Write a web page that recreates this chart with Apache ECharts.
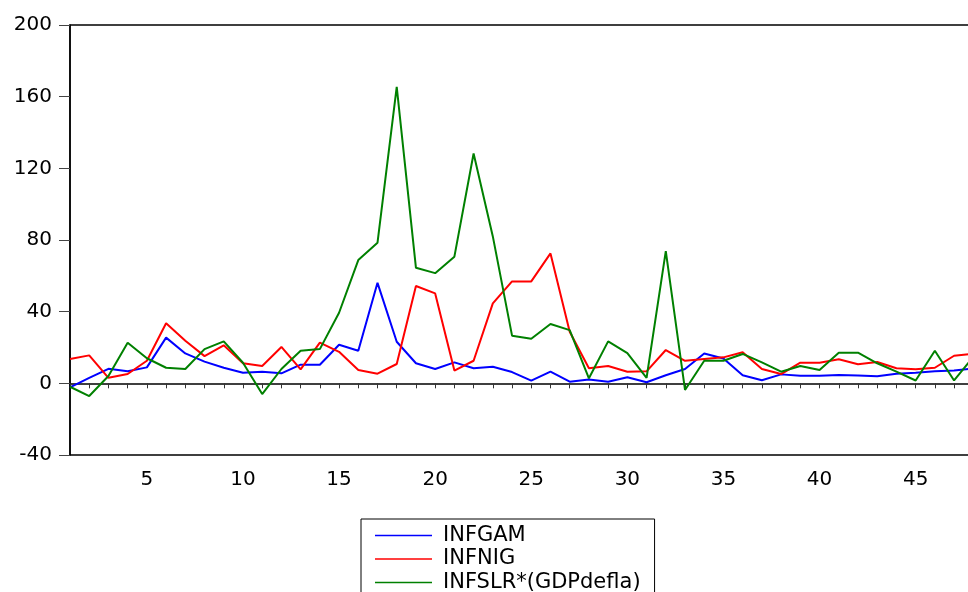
<!DOCTYPE html>
<html>
<head>
<meta charset="utf-8">
<script src="https://cdn.jsdelivr.net/npm/echarts@6/dist/echarts.min.js"></script>
<style>
html,body{margin:0;padding:0;background:#fff;overflow:hidden;width:968px;height:592px;}
#chart{width:975px;height:592px;}
</style>
</head>
<body>
<div id="chart"></div>
<script>
var categories = [];
for (var i = 1; i <= 48; i++) categories.push(String(i));

var seriesNames = ['INFGAM', 'INFNIG', 'INFSLR*(GDPdefla)'];

var infgam = [-2.2, 3, 8.1, 6.7, 8.9, 25.5, 16.7, 12.1, 8.7, 5.9,
  6.5, 5.6, 10.4, 10.4, 21.5, 18.2, 56.1, 23.2, 11.2, 8,
  11.7, 8.4, 9.3, 6.3, 1.5, 6.5, 0.9, 2.2, 0.9, 3.4,
  0.6, 4.5, 8, 16.7, 13.9, 4.5, 1.7, 5, 4.2, 4.2,
  4.6, 4.4, 3.9, 5.4, 5.9, 6.7, 7.1, 8.3];

var infnig = [13.6, 15.6, 3.1, 5.2, 12.6, 33.5, 23.8, 15.2, 21.2, 11.2,
  9.7, 20.3, 7.8, 22.7, 17.6, 7.4, 5.4, 10.8, 54.3, 50.2,
  7.1, 12.6, 44.6, 56.9, 56.9, 72.5, 28.8, 8.4, 9.7, 6.5,
  6.7, 18.6, 12.6, 13.6, 14.5, 17.3, 8, 5.2, 11.5, 11.5,
  13.4, 10.6, 11.9, 8.4, 7.8, 8.7, 15.4, 16.5];

var infslr = [-1.9, -7.1, 4.1, 22.7, 14, 8.7, 8, 19.1, 23.4, 11.5,
  -6, 8, 18.2, 19.1, 39.4, 68.8, 78.5, 165.5, 64.5, 61.5,
  70.7, 128.3, 82, 26.6, 24.9, 33.1, 29.7, 2.8, 23.4, 16.9,
  3.1, 73.8, -3.7, 12.6, 12.6, 16.4, 11.7, 6.5, 9.7, 7.5,
  17.1, 17.1, 11.2, 6.5, 1.6, 18.2, 1.6, 14.8];

var yTicks = [-40, 0, 40, 80, 120, 160, 200];
var colors = ['#0000ff', '#ff0000', '#008000'];

var FONT = 'DejaVu Sans';
var chart = echarts.init(document.getElementById('chart'), null, {renderer: 'canvas'});
chart.setOption({
  animation: false,
  backgroundColor: '#fff',
  grid: {
    left: 70, top: 25, right: 1.7, bottom: 137,
    show: true, borderColor: '#000', borderWidth: 1.3, backgroundColor: 'transparent'
  },
  legend: {
    orient: 'vertical',
    left: 361, top: 519, height: 200, width: 320,
    padding: [6, 14, 30, 14],
    borderColor: '#000', borderWidth: 1,
    backgroundColor: '#fff',
    itemWidth: 57, itemHeight: 1.5, itemGap: 2.5,
    textStyle: {fontFamily: FONT, fontSize: 21, color: '#000', lineHeight: 21, padding: [0, 0, 0, 6]},
    data: seriesNames.map(function (n, k) {
      return {name: n, icon: 'rect', itemStyle: {color: colors[k]}};
    })
  },
  xAxis: {
    type: 'category',
    data: categories,
    boundaryGap: false,
    axisLine: {lineStyle: {color: '#000', width: 1.5}},
    axisTick: {show: true, interval: 0, length: 5, inside: false, lineStyle: {color: '#333', width: 1}},
    axisLabel: {
      interval: function (idx, val) { return Number(val) % 5 === 0; },
      margin: 15,
      fontFamily: FONT, fontSize: 20, color: '#000'
    },
    splitLine: {show: false}
  },
  yAxis: {
    type: 'value',
    min: yTicks[0], max: yTicks[yTicks.length - 1], interval: 40,
    axisLine: {show: true, lineStyle: {color: '#000', width: 1.6}},
    axisTick: {show: true, length: 11, lineStyle: {color: '#444', width: 1}},
    axisLabel: {margin: 18, fontFamily: FONT, fontSize: 20, color: '#000'},
    splitLine: {show: false}
  },
  series: [
    {name: seriesNames[0], type: 'line', data: infgam, symbol: 'none', lineStyle: {color: colors[0], width: 2}, itemStyle: {color: colors[0]}},
    {name: seriesNames[1], type: 'line', data: infnig, symbol: 'none', lineStyle: {color: colors[1], width: 2}, itemStyle: {color: colors[1]}},
    {name: seriesNames[2], type: 'line', data: infslr, symbol: 'none', lineStyle: {color: colors[2], width: 2}, itemStyle: {color: colors[2]}}
  ]
});
</script>
</body>
</html>
